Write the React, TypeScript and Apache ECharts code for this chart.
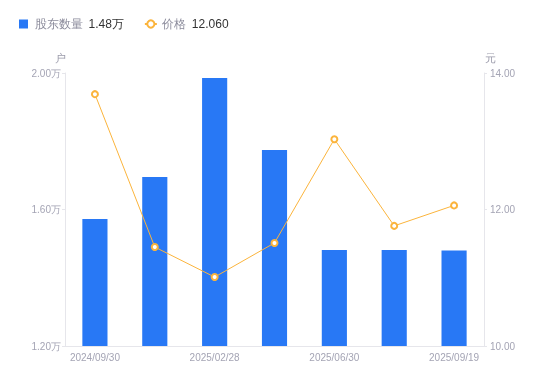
import React, { useEffect, useRef } from "react";
import * as echarts from "echarts";

const categories = ["2024/09/30", "2024/12/31", "2025/02/28", "2025/03/31", "2025/06/30", "2025/08/31", "2025/09/19"];
const holderCounts = [15720, 16950, 19850, 17740, 14810, 14810, 14800];
const prices = [13.69, 11.45, 11.01, 11.51, 13.03, 11.76, 12.06];
const legendValues: Record<string, string> = { "股东数量": "1.48万", "价格": "12.060" };

export default function App() {
  const ref = useRef<HTMLDivElement>(null);
  useEffect(() => {
    const chart = echarts.init(ref.current!, null, { renderer: "svg" });
    const labelColor = "#a4a4b4";
    const axisLineColor = "#e6e6eb";
    chart.setOption({
      animation: false,
      legend: {
        left: 14,
        top: 13,
        itemWidth: 12,
        itemHeight: 9,
        itemGap: 20,
        symbolKeepAspect: true,
        textStyle: {
          fontSize: 12,
          rich: {
            n: { color: "#8c8c9c", fontSize: 12 },
            v: { color: "#333333", fontSize: 12, padding: [0, 0, 0, 6] },
          },
        },
        formatter: (name: string) => `{n|${name}}{v|${legendValues[name]}}`,
        data: [
          { name: "股东数量", icon: "path://M0,0h9v9h-9z", itemStyle: { color: "#2878f5" } },
          { name: "价格" },
        ],
      },
      grid: { left: 65, right: 66, top: 73, bottom: 35 },
      xAxis: {
        type: "category",
        data: categories,
        axisLine: { lineStyle: { color: axisLineColor } },
        axisTick: { show: false },
        axisLabel: { color: labelColor, fontSize: 10, interval: 1, margin: 6 },
      },
      yAxis: [
        {
          type: "value",
          name: "户",
          nameTextStyle: { color: "#9a9aaa", fontSize: 11, padding: [0, 10, 0, 0] },
          nameGap: 10,
          min: 12000,
          max: 20000,
          interval: 4000,
          axisLine: { show: true, lineStyle: { color: axisLineColor } },
          axisTick: { show: true, length: 3, lineStyle: { color: axisLineColor } },
          splitLine: { show: false },
          axisLabel: {
            color: labelColor,
            fontSize: 10,
            margin: 4,
            formatter: (v: number) => (v / 10000).toFixed(2) + "万",
          },
        },
        {
          type: "value",
          name: "元",
          nameTextStyle: { color: "#9a9aaa", fontSize: 11, padding: [0, 0, 0, 12] },
          nameGap: 10,
          min: 10,
          max: 14,
          interval: 2,
          axisLine: { show: true, lineStyle: { color: axisLineColor } },
          axisTick: { show: true, length: 3, lineStyle: { color: axisLineColor } },
          splitLine: { show: false },
          axisLabel: {
            color: labelColor,
            fontSize: 10,
            margin: 6,
            formatter: (v: number) => v.toFixed(2),
          },
        },
      ],
      series: [
        {
          name: "股东数量",
          type: "bar",
          data: holderCounts,
          barWidth: "42%",
          itemStyle: { color: "#2878f5" },
          yAxisIndex: 0,
        },
        {
          name: "价格",
          type: "line",
          yAxisIndex: 1,
          data: prices,
          symbol: "circle",
          symbolSize: 6,
          showAllSymbol: true,
          lineStyle: { color: "#fbb43c", width: 1 },
          itemStyle: { color: "#ffffff", borderColor: "#fbb43c", borderWidth: 2 },
        },
      ],
    });
    return () => chart.dispose();
  }, []);
  return <div ref={ref} style={{ position: "fixed", left: 0, top: 0, width: 550, height: 381 }} />;
}
